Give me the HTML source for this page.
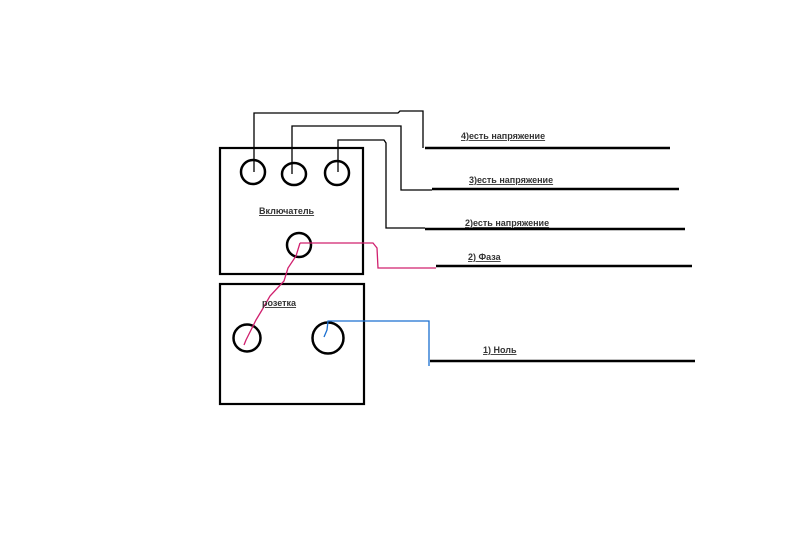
<!DOCTYPE html>
<html><head><meta charset="utf-8"><style>
body{margin:0;background:#fff;width:800px;height:540px;overflow:hidden}
text{font-family:"Liberation Sans","DejaVu Sans",sans-serif;font-size:9px;font-weight:bold;text-decoration:underline;fill:#333}
</style></head><body>
<svg width="800" height="540" xmlns="http://www.w3.org/2000/svg">
<g fill="none" stroke="#000" stroke-width="2.2">
<rect x="220" y="148" width="143" height="126"/>
<rect x="220" y="284" width="144" height="120"/>
</g>
<g fill="none" stroke="#000" stroke-width="2.5">
<circle cx="253" cy="172" r="12"/>
<ellipse cx="294" cy="174" rx="12" ry="11"/>
<circle cx="337" cy="173" r="12"/>
<circle cx="299" cy="245" r="12"/>
<circle cx="247" cy="338" r="13.5"/>
<circle cx="328" cy="338" r="15.5"/>
</g>
<g fill="none" stroke="#000" stroke-width="1.3">
<polyline points="254,172 254,113 398,113 400,111 423,111 423,148"/>
<polyline points="292,174 292,126 401,126 401,190 432,190"/>
<polyline points="338,172 338,140 384,140 386,143 386,228 425,228"/>
</g>
<g stroke="#000" stroke-width="2.5">
<line x1="425" y1="148" x2="670" y2="148"/>
<line x1="432" y1="189" x2="679" y2="189"/>
<line x1="425" y1="229" x2="685" y2="229"/>
<line x1="436" y1="266" x2="692" y2="266"/>
<line x1="430" y1="361" x2="695" y2="361"/>
</g>
<g fill="none" stroke="#d0206e" stroke-width="1.3">
<polyline points="300,243 373,243 377,248 378,268 436,268"/>
<polyline points="300,243 296,256 288,268 284,281 270,296 262,310 256,320 250,332 246,340 244,345"/>
</g>
<polyline fill="none" stroke="#1a6fd0" stroke-width="1.3" points="324,337 327,330 328,321 429,321 429,366"/>
<text x="259" y="214">Включатель</text>
<text x="262" y="306">розетка</text>
<text x="461" y="139">4)есть напряжение</text>
<text x="469" y="183">3)есть напряжение</text>
<text x="465" y="226">2)есть напряжение</text>
<text x="468" y="260">2) Фаза</text>
<text x="483" y="353">1) Ноль</text>
</svg>
</body></html>
